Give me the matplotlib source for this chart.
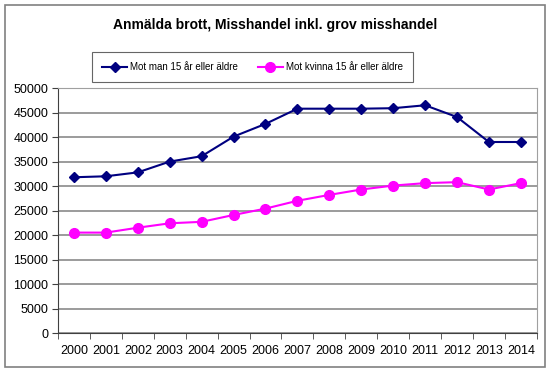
import numpy as np
import matplotlib.pyplot as plt
from matplotlib.patches import Rectangle

years = ['2000', '2001', '2002', '2003', '2004', '2005', '2006', '2007',
         '2008', '2009', '2010', '2011', '2012', '2013', '2014']
men = [31800, 32000, 32800, 35000, 36100, 40100, 42700, 45800,
       45800, 45800, 45900, 46500, 44100, 39000, 39000]
women = [20500, 20500, 21500, 22400, 22700, 24100, 25400, 27000,
         28200, 29300, 30100, 30600, 30800, 29300, 30600]

plt.rcParams['font.family'] = ['Liberation Sans', 'DejaVu Sans']

fig = plt.figure(figsize=(5.5, 3.75), dpi=100)
ax = fig.add_axes([0.1055, 0.112, 0.8705, 0.653])

# outer chart border
fig.patches.append(Rectangle((5 / 550, 8 / 375), 540 / 550, 362 / 375,
                             transform=fig.transFigure, fill=False,
                             edgecolor='#808080', linewidth=1.2))

x = np.arange(len(years))
ax.plot(x, men, color='#000080', marker='D', markersize=5.5, linewidth=1.5,
        label='Mot man 15 år eller äldre', zorder=3)
ax.plot(x, women, color='#FF00FF', marker='o', markersize=7, linewidth=1.5,
        label='Mot kvinna 15 år eller äldre', zorder=3)

ax.set_ylim(0, 50000)
ax.set_xlim(-0.5, len(years) - 0.5)
ax.set_yticks(range(0, 50001, 5000))
ax.set_yticklabels([str(v) for v in range(0, 50001, 5000)], fontsize=9)
ax.set_xticks(x)
ax.set_xticklabels(years, fontsize=9)
ax.tick_params(axis='x', which='major', length=0, pad=9)
ax.set_xticks(np.arange(-0.5, len(years), 1), minor=True)
ax.tick_params(axis='x', which='minor', length=4, color='#404040')
ax.tick_params(axis='y', length=4, color='#404040', pad=3)

ax.grid(axis='y', color='#808080', linewidth=1.1)
ax.set_axisbelow(True)
for side in ['top', 'right']:
    ax.spines[side].set_color('#a0a0a0')
for side in ['left', 'bottom']:
    ax.spines[side].set_color('#404040')

fig.text(0.5, 0.932, 'Anmälda brott, Misshandel inkl. grov misshandel',
         ha='center', va='center', fontsize=10, fontweight='bold')

leg = fig.legend(loc='center', bbox_to_anchor=(0.459, 0.821), ncol=2,
                 fontsize=7, frameon=True, fancybox=False,
                 edgecolor='#404040', handlelength=2.6, handletextpad=0.3,
                 columnspacing=2.0, borderpad=1.0)
leg.get_frame().set_linewidth(0.8)

fig.savefig('out.png', dpi=100)
